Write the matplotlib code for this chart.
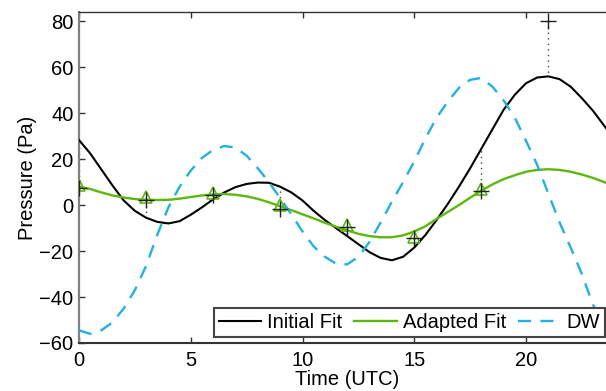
import numpy as np
import matplotlib
matplotlib.use("Agg")
import matplotlib.pyplot as plt

plt.rcParams['font.family'] = ['Liberation Sans', 'DejaVu Sans']

# ---- data ----
fit_time = [0, 0.5, 1, 1.5, 2, 2.5, 3, 3.5, 4, 4.5, 5, 5.5, 6, 6.5, 7, 7.5, 8, 8.5,
            9, 9.5, 10, 10.5, 11, 11.5, 12, 12.5, 13, 13.5, 14, 14.5, 15, 15.5, 16,
            16.5, 17, 17.5, 18, 18.5, 19, 19.5, 20, 20.5, 21, 21.5, 22, 22.5, 23,
            23.5, 24]

initial_fit = [28.3, 22.5, 15.5, 8.5, 2.0, -2.5, -5.5, -7.3, -8.0, -7.0, -4.2, -1.0,
               2.5, 5.5, 7.8, 9.2, 9.8, 9.7, 8.0, 5.5, 2.0, -2.5, -6.5, -10.0, -13.5,
               -17.0, -20.5, -23.0, -24.0, -22.5, -18.5, -13.0, -6.5, 0.5, 8.0, 16.0,
               24.5, 33.0, 41.5, 48.0, 53.0, 55.5, 56.0, 54.8, 51.5, 46.5, 41.0, 34.5,
               28.3]

adapted_fit = [8.0, 7.0, 5.5, 4.2, 3.3, 2.6, 2.3, 2.2, 2.3, 2.8, 3.5, 4.2, 4.6, 4.8,
               4.5, 3.8, 2.7, 1.2, -0.5, -2.2, -4.0, -5.8, -7.7, -9.4, -11.0, -12.5,
               -13.5, -14.0, -14.0, -13.2, -11.5, -9.2, -6.0, -3.0, 0.0, 3.2, 6.3,
               9.0, 11.3, 13.0, 14.5, 15.3, 15.6, 15.3, 14.5, 13.3, 11.8, 10.0, 8.0]

dw = [-54.5, -56.0, -54.5, -51.0, -45.0, -37.0, -26.5, -13.0, -1.0, 8.0, 15.0, 20.5,
      24.0, 25.7, 25.0, 21.5, 16.0, 10.0, 3.0, -4.0, -11.5, -18.0, -22.5, -25.5,
      -25.8, -22.5, -16.0, -7.5, 1.5, 10.0, 19.0, 29.0, 38.0, 45.0, 51.0, 54.5,
      55.3, 51.5, 45.5, 38.0, 28.0, 17.5, 5.0, -7.5, -18.5, -30.0, -43.5, -51.0,
      -54.5]

obs_time = [0, 3, 6, 9, 12, 15, 18, 21]
observed = [7.4, 2.2, 4.3, -1.5, -9.4, -14.5, 6.1, 80.0]

adapted_time = [0, 3, 6, 9, 12, 15, 18]
adapted_obs = [8.7, 3.6, 5.4, 0.0, -8.7, -13.8, 7.1]

x_ticks = [0, 5, 10, 15, 20]
y_ticks = [-60, -40, -20, 0, 20, 40, 60, 80]

# ---- figure ----
W, H = 606, 391
fig = plt.figure(figsize=(W / 100, H / 100), dpi=100)
left, right, top, bottom = 79, 615.4, 12, 343
ax = fig.add_axes([left / W, (H - bottom) / H, (right - left) / W, (bottom - top) / H])

black = '#000000'
green = '#5CB80C'
blue = '#1FB2E8'
FS = 14.5

# residual dotted lines
fit_lookup = dict(zip(fit_time, initial_fit))
for t, o in zip(obs_time, observed):
    ax.plot([t, t], [o, fit_lookup[t]], linestyle=(0, (1, 3)), color='#444444',
            lw=1.0, zorder=2)

l1, = ax.plot(fit_time, initial_fit, color=black, lw=1.5, label='Initial Fit', zorder=3)
l2, = ax.plot(fit_time, adapted_fit, color=green, lw=1.7, label='Adapted Fit', zorder=3)
l3, = ax.plot(fit_time, dw, color=blue, lw=1.7, linestyle=(0, (5.5, 4)), label='DW',
              zorder=3)

ax.plot(adapted_time, adapted_obs, linestyle='none', marker='^', ms=8,
        mfc='none', mec=green, mew=1.2, zorder=4)
ax.plot(obs_time, observed, linestyle='none', marker='+', ms=11, color='#222222',
        mew=1.0, zorder=5)

ax.set_xlim(0, 24)
ax.set_ylim(-60, 84)
ax.set_xticks(x_ticks)
ax.set_yticks(y_ticks)
ax.set_yticklabels([str(v).replace('-', '\u2212') for v in y_ticks])
ax.tick_params(direction='in', length=4, width=1.0, labelsize=FS, top=True,
               right=False, colors='#333333', labelcolor='black')
ax.tick_params(axis='x', pad=6)
ax.tick_params(axis='y', pad=4)

ax.spines['left'].set_color('#808080')
ax.spines['left'].set_linewidth(1.6)
ax.spines['bottom'].set_color('#333333')
ax.spines['bottom'].set_linewidth(1.5)
ax.spines['top'].set_color('#333333')
ax.spines['top'].set_linewidth(1.0)
ax.spines['right'].set_visible(False)

ax.set_xlabel('Time (UTC)', fontsize=FS, labelpad=0)
ax.set_ylabel('Pressure (Pa)', fontsize=FS, labelpad=2)

leg = ax.legend(handles=[l1, l2, l3], loc='lower right', ncol=3, fontsize=FS,
                bbox_to_anchor=(605 / W, (H - 337) / H), bbox_transform=fig.transFigure,
                borderaxespad=0, frameon=True, fancybox=False, framealpha=1,
                edgecolor='#444444', handlelength=2.1, handletextpad=0.3,
                columnspacing=0.6, borderpad=0.25)
leg.get_frame().set_linewidth(1.5)
leg.set_zorder(10)

fig.savefig('out.png', dpi=100)
